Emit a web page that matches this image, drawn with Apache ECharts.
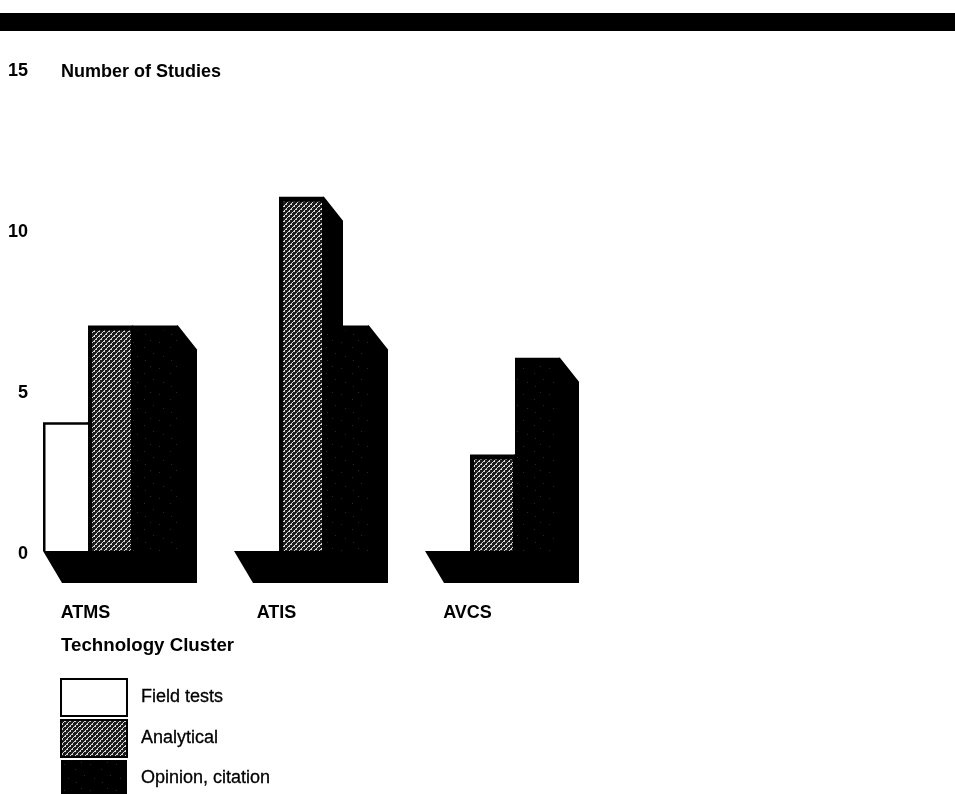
<!DOCTYPE html>
<html><head><meta charset="utf-8">
<style>html,body{margin:0;padding:0;background:#fff}#c{width:955px;height:794px}</style>
<script src="https://cdn.jsdelivr.net/npm/echarts@6/dist/echarts.min.js"></script>
</head><body><div id="c"></div>
<script>
const categories = ['ATMS', 'ATIS', 'AVCS'];
const fieldTests = [4, 0, 0];
const analytical = [7, 11, 3];
const opinion = [7, 7, 6];
const yTicks = [0, 5, 10, 15];

function tile(size, draw) {
  const c = document.createElement('canvas');
  c.width = c.height = size;
  draw(c.getContext('2d'));
  return { image: c, repeat: 'repeat' };
}
const hatch = tile(5, g => {
  g.fillStyle = '#1c1c1c'; g.fillRect(0, 0, 5, 5);
  g.fillStyle = '#d8d8d8';
  [[4, 0], [3, 1], [2, 2], [1, 3], [0, 4], [4, 1], [1, 4]].forEach(p => g.fillRect(p[0], p[1], 1, 1));
});
const dots = tile(26, g => {
  g.fillStyle = '#000'; g.fillRect(0, 0, 26, 26);
  g.fillStyle = '#2a2a2a';
  [[3, 4], [14, 9], [20, 2], [7, 18], [23, 15], [15, 22]].forEach(p => g.fillRect(p[0], p[1], 1, 1));
});

const BAR = 45 / 191, DX = 19, DY = 24, FLOOR = 32;

function barRenderer(slot, fill, frame) {
  return function (params, api) {
    const v = api.value(1);
    if (!v) return { type: 'group', children: [] };
    const base = api.coord([api.value(0), 0]);
    const top = api.coord([api.value(0), v]);
    const w = api.size([1, 0])[0] * BAR;
    const x0 = base[0] + (slot - 1.5) * w, x1 = x0 + w;
    const h = base[1] - top[1];
    return {
      type: 'group',
      children: [
        { type: 'polygon',
          shape: { points: [[x1 - 1, top[1]], [x1, top[1]], [x1 + DX, top[1] + DY], [x1 + DX, base[1] + FLOOR], [x1 - 1, base[1] + FLOOR]] },
          style: { fill: '#000' } },
        { type: 'rect', shape: { x: x0, y: top[1], width: w, height: h }, style: { fill: '#000' } },
        { type: 'rect',
          shape: { x: x0 + frame[0], y: top[1] + frame[1], width: w - frame[0] - frame[2], height: h - frame[1] },
          style: { fill: fill } }
      ]
    };
  };
}
function floorRenderer(params, api) {
  const base = api.coord([api.value(0), 0]);
  const w = api.size([1, 0])[0] * BAR;
  const x0 = base[0] - 1.5 * w, x1 = base[0] + 1.5 * w;
  return { type: 'polygon',
    shape: { points: [[x0, base[1]], [x1, base[1]], [x1 + DX, base[1] + FLOOR], [x0 + DX, base[1] + FLOOR]] },
    style: { fill: '#000' } };
}
const pairs = a => a.map((v, i) => [i, v]);
const bold = { fontFamily: 'Liberation Sans', fontWeight: 'bold', fontSize: 18, color: '#000' };

const chart = echarts.init(document.getElementById('c'), null, { renderer: 'canvas' });
chart.setOption({
  animation: false,
  backgroundColor: '#fff',
  grid: { left: 15, top: 68, width: 573, height: 483 },
  xAxis: {
    type: 'category', data: categories,
    axisLine: { show: false }, axisTick: { show: false }, splitLine: { show: false },
    axisLabel: Object.assign({}, bold, { margin: 53, padding: [0, 50, 0, 0] })
  },
  yAxis: {
    type: 'value', min: 0, max: 15, interval: 5,
    axisLine: { show: false }, axisTick: { show: false }, splitLine: { show: false },
    axisLabel: Object.assign({}, bold, { margin: -13, verticalAlign: 'top', lineHeight: 7, formatter: v => yTicks.includes(v) ? String(v) : '' })
  },
  legend: {
    orient: 'vertical', left: 60, top: 678, height: 140, padding: 0, icon: 'rect',
    itemWidth: 66, itemHeight: 37, itemGap: 2,
    data: ['Field tests', 'Analytical', 'Opinion, citation'],
    textStyle: { fontFamily: 'Liberation Sans', fontSize: 18, color: '#000', textBorderColor: '#000', textBorderWidth: 0.3, padding: [5, 0, 0, 9] }
  },
  graphic: [
    { type: 'rect', left: 0, top: 13, shape: { width: 955, height: 18 }, style: { fill: '#000' } },
    { type: 'text', left: 61, top: 63, style: { text: 'Number of Studies', font: 'bold 18px "Liberation Sans"', fill: '#000' } },
    { type: 'text', left: 61, top: 636, style: { text: 'Technology Cluster', font: 'bold 18.7px "Liberation Sans"', fill: '#000' } }
  ],
  series: [
    { type: 'custom', name: 'floor', data: pairs(categories.map(() => 0)), renderItem: floorRenderer, silent: true },
    { type: 'custom', name: 'Field tests', data: pairs(fieldTests), renderItem: barRenderer(0, '#fff', [2.5, 2.5, 0]),
      itemStyle: { color: '#fff', borderColor: '#000', borderWidth: 2 } },
    { type: 'custom', name: 'Analytical', data: pairs(analytical), renderItem: barRenderer(1, hatch, [4, 5, 2]),
      itemStyle: { color: hatch, borderColor: '#000', borderWidth: 2 } },
    { type: 'custom', name: 'Opinion, citation', data: pairs(opinion), renderItem: barRenderer(2, dots, [0, 5, 0]),
      itemStyle: { color: dots } }
  ]
});
</script></body></html>
